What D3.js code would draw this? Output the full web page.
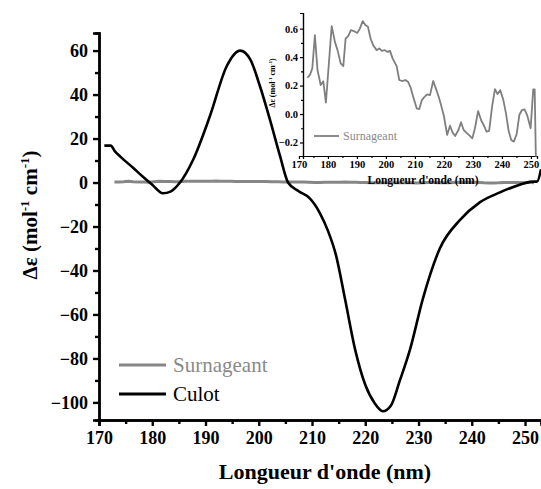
<!DOCTYPE html>
<html>
<head>
<meta charset="utf-8">
<script src="https://cdn.jsdelivr.net/npm/d3@7"></script>
<style>
html,body{margin:0;padding:0;background:#fff;}
svg{display:block;font-family:"Liberation Serif","Times New Roman",serif;}
</style>
</head>
<body>
<svg id="chart" width="541" height="489"></svg>
<script>
// ---- Data ----
const culotWavelength = [171, 172.2, 173, 174, 176.4, 178.3, 180, 182, 183.5, 185.2, 187.7, 190.8, 194, 196.5, 198.4, 200.2, 202.1, 204, 205.5, 207.5, 209.5, 211.5, 213, 214.5, 216.2, 218.1, 220, 221.8, 223.3, 224.8, 226.5, 228.4, 230.8, 234, 237.8, 241.5, 245.3, 249, 251, 252.3, 253];
const culotValues = [16.8, 16.8, 14.2, 11.8, 6.7, 2.5, -1, -4.9, -4, 0, 10.5, 30, 53, 60, 56, 44, 28.6, 12, 0, -4, -7, -14, -22, -33, -53, -76, -92, -100.5, -104, -101.5, -90, -76, -53, -30, -17, -9, -4.5, -1, 0.3, 0.5, 6];

const surnWavelength = [172.9, 173.8, 174.6, 175.5, 176.4, 177.5, 178.4, 179.3, 181.3, 182.4, 183.3, 184.4, 185.3, 186.1, 187, 187.9, 189, 190.1, 191, 192, 192.9, 193.8, 194.7, 195.6, 196.8, 197.7, 198.6, 199.6, 200.4, 201.4, 202.3, 203.7, 204.6, 205.5, 206.7, 207.6, 208.5, 209.4, 210.6, 211.5, 212.4, 213.3, 214.2, 215.2, 216.3, 217.2, 218.2, 219.1, 220, 221.1, 222.1, 223, 223.9, 225, 225.9, 226.8, 227.7, 228.6, 229.8, 230.7, 231.8, 232.8, 233.7, 234.7, 235.6, 236.6, 237.6, 238.5, 239.4, 240.5, 241.4, 242.3, 243.2, 244.1, 245.1, 246, 246.9, 247.8, 248.7, 249.9, 250.8, 251.3, 251.7];
const surnValues = [0.255, 0.275, 0.32, 0.554, 0.309, 0.204, 0.23, 0.08, 0.618, 0.507, 0.449, 0.356, 0.337, 0.531, 0.547, 0.589, 0.582, 0.57, 0.6, 0.653, 0.625, 0.613, 0.531, 0.484, 0.449, 0.461, 0.444, 0.449, 0.437, 0.444, 0.391, 0.337, 0.239, 0.232, 0.239, 0.227, 0.187, 0.121, 0.04, 0.035, 0.098, 0.121, 0.138, 0.133, 0.232, 0.18, 0.121, 0.056, -0.014, -0.147, -0.082, -0.131, -0.154, -0.112, -0.058, -0.112, -0.131, -0.147, -0.171, -0.1, 0.021, -0.042, -0.077, -0.124, -0.119, 0.051, 0.175, 0.14, 0.168, 0.098, 0.005, -0.117, -0.182, -0.194, -0.14, -0.007, 0.028, 0.033, -0.007, -0.1, 0.173, 0.173, -0.3];

const mainXTicks = [170, 180, 190, 200, 210, 220, 230, 240, 250];
const mainYTicks = [-100, -80, -60, -40, -20, 0, 20, 40, 60];
const insetXTicks = [170, 180, 190, 200, 210, 220, 230, 240, 250];
const insetYTicks = [-0.2, 0.0, 0.2, 0.4, 0.6];
const seriesNames = ["Surnageant", "Culot"];
const seriesColors = ["#868686", "#000000"];

const culot = culotWavelength.map((w, i) => ({x: w, y: culotValues[i]}));
const surn = surnWavelength.map((w, i) => ({x: w, y: surnValues[i]}));

const svg = d3.select("#chart");

// ---- Main chart ----
const x = d3.scaleLinear().domain([170, 253]).range([99, 541]);
const y = d3.scaleLinear().domain([-108, 68]).range([420, 33]);

function styleAxis(g, w, fs) {
  g.select(".domain").attr("stroke", "#000").attr("stroke-width", w);
  g.selectAll(".tick line").attr("stroke", "#000").attr("stroke-width", w);
  g.selectAll(".tick text").attr("fill", "#000").attr("font-weight", "bold")
    .attr("font-size", fs).attr("font-family", "Liberation Serif, serif");
}

// minor ticks
const xMinor = d3.range(175, 253, 10);
const yMinor = d3.range(-90, 68, 20);
svg.append("g").attr("transform", "translate(0,420)")
  .call(d3.axisBottom(x).tickValues(xMinor).tickSize(4).tickFormat(""))
  .call(g => styleAxis(g, 2.4, 18));
svg.append("g").attr("transform", "translate(99,0)")
  .call(d3.axisLeft(y).tickValues(yMinor).tickSize(4).tickFormat(""))
  .call(g => styleAxis(g, 2.4, 18));

svg.append("g").attr("transform", "translate(0,420)")
  .call(d3.axisBottom(x).tickValues(mainXTicks).tickSize(6).tickPadding(5).tickFormat(d3.format("d")))
  .call(g => styleAxis(g, 2.4, 18));
svg.append("g").attr("transform", "translate(99,0)")
  .call(d3.axisLeft(y).tickValues(mainYTicks).tickSize(6).tickPadding(5).tickFormat(d3.format("d")))
  .call(g => styleAxis(g, 2.4, 18));

svg.append("path").datum(surn)
  .attr("d", d3.line().x(d => x(d.x)).y(d => y(d.y)))
  .attr("fill", "none").attr("stroke", seriesColors[0]).attr("stroke-width", 3);
svg.append("path").datum(culot)
  .attr("d", d3.line().x(d => x(d.x)).y(d => y(d.y)).curve(d3.curveMonotoneX))
  .attr("fill", "none").attr("stroke", seriesColors[1]).attr("stroke-width", 2.6)
  .attr("stroke-linejoin", "round");

// axis titles
svg.append("text").attr("x", 325).attr("y", 479).attr("text-anchor", "middle")
  .attr("font-size", 22).attr("font-weight", "bold").text("Longueur d'onde (nm)");

const yt = svg.append("text").attr("transform", "translate(37,215) rotate(-90)")
  .attr("text-anchor", "middle").attr("font-size", 21).attr("font-weight", "bold");
yt.append("tspan").text("Δε (mol");
yt.append("tspan").attr("dy", -8).attr("font-size", 13).text("-1");
yt.append("tspan").attr("dy", 8).text(" cm");
yt.append("tspan").attr("dy", -8).attr("font-size", 13).text("-1");
yt.append("tspan").attr("dy", 8).text(")");

// legend
const legY = [365, 394];
seriesNames.forEach((n, i) => {
  svg.append("line").attr("x1", 119).attr("x2", 166).attr("y1", legY[i]).attr("y2", legY[i])
    .attr("stroke", seriesColors[i]).attr("stroke-width", 3);
  svg.append("text").attr("x", 173).attr("y", legY[i] + 7).attr("font-size", 21)
    .attr("fill", i === 0 ? "#8a8a8a" : "#000").text(n);
});

// ---- Inset ----
const ix = d3.scaleLinear().domain([171.4, 252.1]).range([303, 537]);
const iy = d3.scaleLinear().domain([-0.295, 0.71]).range([156, 13]);

svg.append("g").attr("transform", "translate(0,156)")
  .call(d3.axisBottom(ix).tickValues(d3.range(175, 252, 10)).tickSize(2).tickFormat(""))
  .call(g => styleAxis(g, 1.2, 10));
svg.append("g").attr("transform", "translate(303,0)")
  .call(d3.axisLeft(iy).tickValues([-0.1, 0.1, 0.3, 0.5]).tickSize(2).tickFormat(""))
  .call(g => styleAxis(g, 1.2, 10));
svg.append("g").attr("transform", "translate(0,156)")
  .call(d3.axisBottom(ix).tickValues(insetXTicks).tickSize(3).tickPadding(2).tickFormat(d3.format("d")))
  .call(g => styleAxis(g, 1.2, 10.5));
svg.append("g").attr("transform", "translate(303,0)")
  .call(d3.axisLeft(iy).tickValues(insetYTicks).tickSize(3).tickPadding(2).tickFormat(d3.format(".1f")))
  .call(g => styleAxis(g, 1.2, 10.5));

svg.append("path").datum(surn)
  .attr("d", d3.line().x(d => ix(d.x)).y(d => iy(d.y)))
  .attr("fill", "none").attr("stroke", "#7f7f7f").attr("stroke-width", 1.8)
  .attr("stroke-linejoin", "round");

svg.append("text").attr("x", 423).attr("y", 184).attr("text-anchor", "middle")
  .attr("font-size", 11.5).attr("font-weight", "bold").text("Longueur d'onde (nm)");
const iyt = svg.append("text").attr("transform", "translate(275,83) rotate(-90)")
  .attr("text-anchor", "middle").attr("font-size", 8).attr("font-weight", "bold");
iyt.append("tspan").text("Δε (mol");
iyt.append("tspan").attr("dy", -3).attr("font-size", 5).text("-1");
iyt.append("tspan").attr("dy", 3).text(" cm");
iyt.append("tspan").attr("dy", -3).attr("font-size", 5).text("-1");
iyt.append("tspan").attr("dy", 3).text(")");

svg.append("line").attr("x1", 314).attr("x2", 339).attr("y1", 136).attr("y2", 136)
  .attr("stroke", "#7f7f7f").attr("stroke-width", 1.8);
svg.append("text").attr("x", 343).attr("y", 140).attr("font-size", 12)
  .attr("fill", "#8a8a8a").text(seriesNames[0]);
</script>
</body>
</html>
